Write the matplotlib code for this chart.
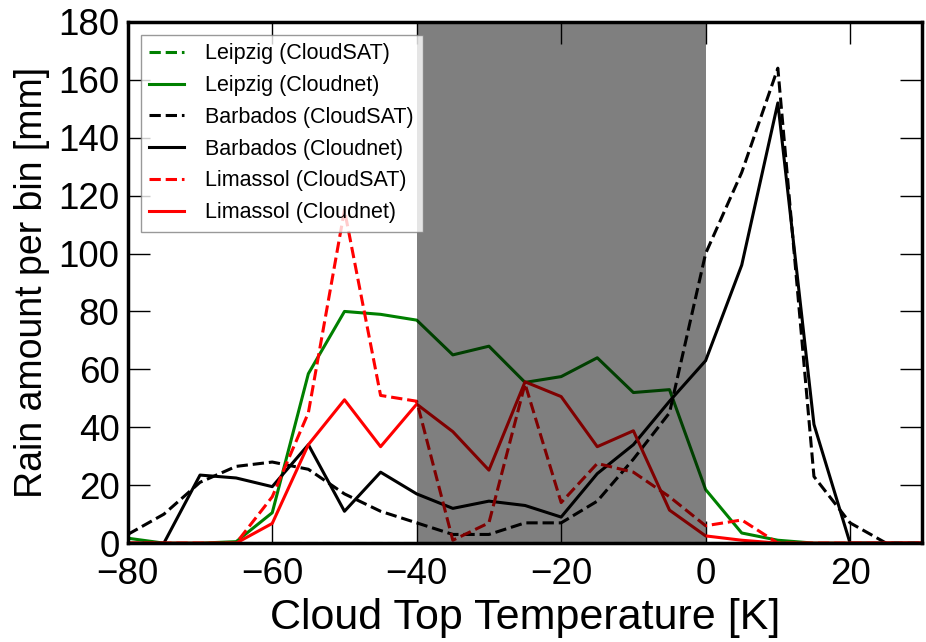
import numpy as np
import matplotlib
matplotlib.use("Agg")
import matplotlib.pyplot as plt

# cloud top temperature bins [K]
temps = np.arange(-80, 31, 5)

leipzig_cloudsat = [0, 0, 0, 0, 0, 0, 0, 0, 0, 0, 0, 0, 0, 0, 0, 0, 0, 0, 0, 0, 0, 0, 0]
leipzig_cloudnet = [1.7, 0, 0, 0.5, 10.5, 58.5, 80, 79, 77, 65, 68, 55.5, 57.5, 64, 52,
                    53, 18.5, 3.5, 1, 0, 0, 0, 0]
barbados_cloudsat = [3, 10, 21, 26.5, 28, 25.5, 17, 11, 7, 3, 3, 7, 7, 14.5, 29,
                     45, 100, 128, 164, 23, 7, 0, 0]
barbados_cloudnet = [0, 0, 23.5, 22.5, 19.5, 34, 11, 24.5, 17, 12, 14.5, 13, 9, 24, 34,
                     49, 63, 96, 152, 41, 0, 0, 0]
limassol_cloudsat = [0, 0, 0, 0, 16, 45, 115, 51, 49, 1, 7, 55, 14, 27.5, 24.5,
                     16, 6, 8, 0, 0, 0, 0, 0]
limassol_cloudnet = [0, 0, 0, 0, 6.8, 34, 49.5, 33.3, 48, 38.5, 25.2, 55.7, 50.6, 33.3, 38.8,
                     11.4, 2.5, 1, 0, 0, 0, 0, 0]

plt.rcParams['font.family'] = ['Liberation Sans', 'DejaVu Sans']

fig = plt.figure(figsize=(9.26, 6.42), dpi=100)
ax = fig.add_axes([0.138, 0.154, 0.858, 0.812])

lw = 2.2
ax.plot(temps, leipzig_cloudsat, '--', color='green', lw=lw, label='Leipzig (CloudSAT)')
ax.plot(temps, leipzig_cloudnet, '-', color='green', lw=lw, label='Leipzig (Cloudnet)')
ax.plot(temps, barbados_cloudsat, '--', color='black', lw=lw, label='Barbados (CloudSAT)')
ax.plot(temps, barbados_cloudnet, '-', color='black', lw=lw, label='Barbados (Cloudnet)')
ax.plot(temps, limassol_cloudsat, '--', color='red', lw=lw, label='Limassol (CloudSAT)')
ax.plot(temps, limassol_cloudnet, '-', color='red', lw=lw, label='Limassol (Cloudnet)')

# mixed-phase range shaded over the curves
ax.axvspan(-40, 0, color='black', alpha=0.5, lw=0, zorder=3)

ax.set_xlim(-80, 30)
ax.set_ylim(0, 180)
ax.set_xticks(np.arange(-80, 21, 20))
ax.set_yticks(np.arange(0, 181, 20))
ax.tick_params(direction='in', length=16, width=1, top=True, right=True,
               labelsize=26.5)
ax.tick_params(axis='y', pad=6)
ax.tick_params(axis='x', pad=10)
for s in ax.spines.values():
    s.set_linewidth(2.5)
    s.set_zorder(5)

ax.set_xlabel('Cloud Top Temperature [K]', fontsize=31, labelpad=4)
ax.set_ylabel('Rain amount per bin [mm]', fontsize=27, labelpad=6)

leg = ax.legend(loc='upper left', fancybox=False, framealpha=0.8,
                edgecolor='gray', labelspacing=0.5, handlelength=1.6,
                handletextpad=1.0, borderaxespad=0.6, prop={'size': 15.5})
leg.set_zorder(6)

fig.savefig('out.png', dpi=100)
